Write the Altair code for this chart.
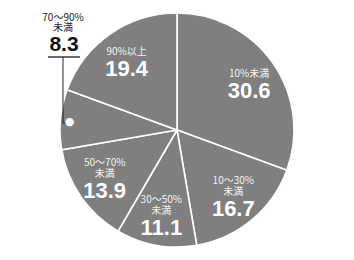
import altair as alt
import pandas as pd

# Share of respondents by bracket, clockwise from 12 o'clock
categories = ["10%未満", "10～30%未満", "30～50%未満", "50～70%未満", "70～90%未満", "90%以上"]
shares = [30.6, 16.7, 11.1, 13.9, 8.3, 19.4]
callout_category = "70～90%未満"  # slice too thin for an inside label

JP_FONT = "Noto Sans CJK JP"
NUM_FONT = "Liberation Sans"


def split_label(cat):
    """Two-line label: range on top, '未満' underneath; single line otherwise."""
    if "～" in cat and cat.endswith("未満"):
        return cat[:-2], "未満"
    return "", cat


rows = []
for i, (cat, val) in enumerate(zip(categories, shares)):
    top, mid = split_label(cat)
    inside = cat != callout_category
    rows.append({
        "category": cat,
        "share": val,
        "order": i,
        "top": top,
        "mid": mid,
        "num": f"{val:.1f}",
        "top_in": top if inside else "",
        "mid_in": mid if inside else "",
        "num_in": f"{val:.1f}" if inside else "",
        "dot": "" if inside else "●",
    })
df = pd.DataFrame(rows)

base = alt.Chart(df).encode(
    theta=alt.Theta("share:Q", stack=True),
    order=alt.Order("order:Q"),
    detail="category:N",
)

pie = base.mark_arc(outerRadius=117, stroke="white", strokeWidth=1.6).encode(
    color=alt.value("#7f7f7f")
)

LABEL_R = 88
NUM_DY = 11
SMALL = 10

nums = base.mark_text(
    radius=LABEL_R, dy=NUM_DY, font=NUM_FONT, fontSize=22, fontWeight="bold", color="white"
).encode(text="num_in:N")
mid_lines = base.mark_text(
    radius=LABEL_R, dy=NUM_DY - 17, font=JP_FONT, fontSize=SMALL, color="#f4f4f4"
).encode(text="mid_in:N")
top_lines = base.mark_text(
    radius=LABEL_R, dy=NUM_DY - 28, font=JP_FONT, fontSize=SMALL, color="#f4f4f4"
).encode(text="top_in:N")

# white dot marking the thin slice
dot = base.mark_text(radius=108, dy=2, font="DejaVu Sans", fontSize=11, color="white").encode(
    text="dot:N"
)

# outside callout with leader line
callout = alt.Chart(df).transform_filter(alt.datum.category == callout_category)
line_color = "#2a2a2a"
underline = callout.mark_rule(color=line_color, strokeWidth=1.4).encode(
    x=alt.value(48), x2=alt.value(80), y=alt.value(57)
)
leader_v = callout.mark_rule(color=line_color, strokeWidth=1).encode(
    x=alt.value(63), y=alt.value(57), y2=alt.value(123)
)
leader_h = callout.mark_rule(color=line_color, strokeWidth=1).encode(
    x=alt.value(63), x2=alt.value(68), y=alt.value(123)
)
c_top = callout.mark_text(font=JP_FONT, fontSize=SMALL, color="#222222").encode(
    x=alt.value(63), y=alt.value(17.5), text="top:N"
)
c_mid = callout.mark_text(font=JP_FONT, fontSize=SMALL, color="#222222").encode(
    x=alt.value(63), y=alt.value(28), text="mid:N"
)
c_num = callout.mark_text(font=NUM_FONT, fontSize=21, fontWeight="bold", color="#111111").encode(
    x=alt.value(64), y=alt.value(45), text="num:N"
)

chart = (
    alt.layer(pie, nums, mid_lines, top_lines, leader_v, leader_h, dot, underline, c_top, c_mid, c_num)
    .properties(width=354, height=260, autosize=alt.AutoSizeParams(type="none"), padding=0, background="white")
    .configure_view(stroke=None)
)

chart.save("out.html", embed_options={"renderer": "svg", "actions": False})
